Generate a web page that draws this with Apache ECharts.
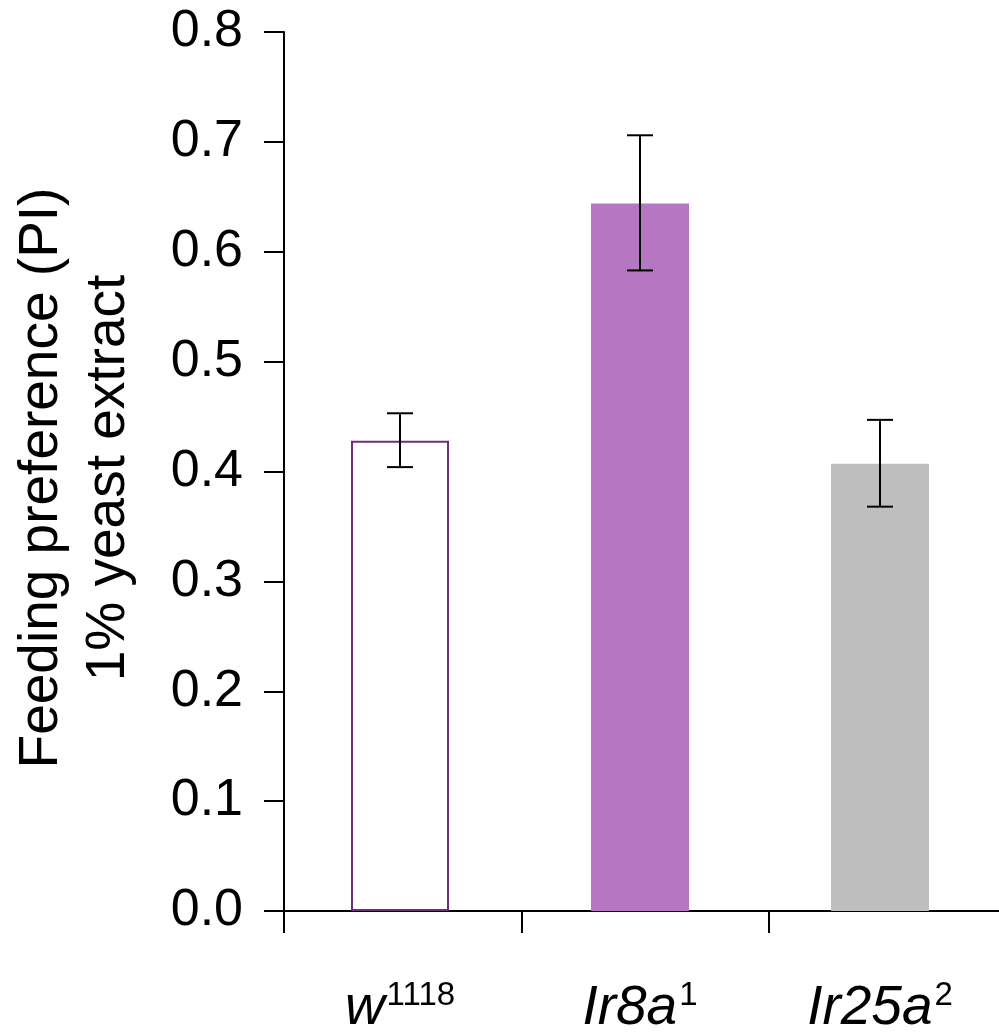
<!DOCTYPE html>
<html>
<head>
<meta charset="utf-8">
<script src="https://cdn.jsdelivr.net/npm/echarts@6/dist/echarts.min.js"></script>
<style>
html,body{margin:0;padding:0;background:#fff;}
#chart{width:999px;height:1034px;}
</style>
</head>
<body>
<div id="chart"></div>
<script>
// ---- data ----
var categories = ['w', 'Ir8a', 'Ir25a'];
var superscripts = ['1118', '1', '2'];
var means = [0.428, 0.644, 0.407];
var errLow = [0.404, 0.583, 0.368];
var errHigh = [0.453, 0.706, 0.447];
var yTicks = ['0.0', '0.1', '0.2', '0.3', '0.4', '0.5', '0.6', '0.7', '0.8'];
var barColors = ['#ffffff', '#b577c2', '#bebebe'];
var barBorders = ['#6e2f7a', '#b577c2', '#bebebe'];

var FONT = 'Liberation Sans, Arial, Helvetica, sans-serif';
var NARROW = 'Liberation Sans Narrow, Arial Narrow, Liberation Sans, Arial, sans-serif';

var chart = echarts.init(document.getElementById('chart'), null, {renderer: 'canvas'});

var barData = means.map(function (v, i) {
  return {
    value: v,
    itemStyle: {
      color: barColors[i],
      borderColor: barBorders[i],
      borderWidth: i === 0 ? 2 : 0
    }
  };
});

var errData = means.map(function (v, i) { return [i, errLow[i], errHigh[i]]; });

var option = {
  backgroundColor: '#ffffff',
  animation: false,
  grid: [
    {left: 280, width: 720, top: 32, height: 879, containLabel: false, outerBoundsMode: 'none'},
    {left: 284, width: 715, top: 32, height: 879, containLabel: false, outerBoundsMode: 'none'}
  ],
  xAxis: [
    {
      type: 'category',
      gridIndex: 0,
      data: categories,
      axisLine: {show: true, lineStyle: {color: '#000', width: 2}},
      axisTick: {show: false},
      axisLabel: {
        margin: 68,
        formatter: function (val, idx) {
          return '{i|' + val + '}{s|' + superscripts[idx] + '}';
        },
        rich: {
          i: {fontFamily: FONT, fontStyle: 'italic', fontSize: 55, color: '#000', lineHeight: 60},
          s: {fontFamily: NARROW, fontSize: 33, color: '#000', verticalAlign: 'top', lineHeight: 34, padding: [0, 0, 0, 2]}
        }
      }
    },
    {
      type: 'value',
      gridIndex: 1,
      min: 0,
      max: 715,
      axisLine: {show: false},
      splitLine: {show: false},
      axisLabel: {show: false},
      axisTick: {show: true, inside: false, length: 22, customValues: [0, 238, 485], lineStyle: {color: '#000', width: 2}}
    }
  ],
  yAxis: [
    {
      type: 'value',
      gridIndex: 0,
      min: 0, max: 0.8, interval: 0.1,
      show: false,
      splitLine: {show: false}
    },
    {
      type: 'value',
      gridIndex: 1,
      min: 0, max: 0.8, interval: 0.1,
      splitLine: {show: false},
      axisLine: {show: true, lineStyle: {color: '#000', width: 2}},
      axisTick: {show: true, inside: false, length: 20, lineStyle: {color: '#000', width: 2}},
      axisLabel: {
        margin: 41,
        fontFamily: FONT,
        fontSize: 52,
        color: '#000',
        formatter: function (v) {
          var i = Math.round(v * 10);
          return yTicks[i];
        }
      },
      name: 'Feeding preference (PI)\n1% yeast extract',
      nameLocation: 'middle',
      nameGap: 142,
      nameRotate: 90,
      nameTextStyle: {
        fontFamily: FONT,
        fontSize: 55,
        lineHeight: 67,
        color: '#000',
        align: 'center',
        padding: [0, 13, 0, 0]
      }
    }
  ],
  series: [
    {
      type: 'bar',
      xAxisIndex: 0,
      yAxisIndex: 0,
      data: barData,
      barWidth: 98,
      z: 2
    },
    {
      type: 'custom',
      xAxisIndex: 0,
      yAxisIndex: 0,
      data: errData,
      z: 5,
      renderItem: function (params, api) {
        var x = api.value(0);
        var lo = api.coord([x, api.value(1)]);
        var hi = api.coord([x, api.value(2)]);
        var half = 13;
        var style = {stroke: '#000', lineWidth: 2};
        return {
          type: 'group',
          children: [
            {type: 'line', shape: {x1: hi[0], y1: hi[1], x2: lo[0], y2: lo[1]}, style: style},
            {type: 'line', shape: {x1: hi[0] - half, y1: hi[1], x2: hi[0] + half, y2: hi[1]}, style: style},
            {type: 'line', shape: {x1: lo[0] - half, y1: lo[1], x2: lo[0] + half, y2: lo[1]}, style: style}
          ]
        };
      }
    }
  ]
};

chart.setOption(option);
</script>
</body>
</html>
